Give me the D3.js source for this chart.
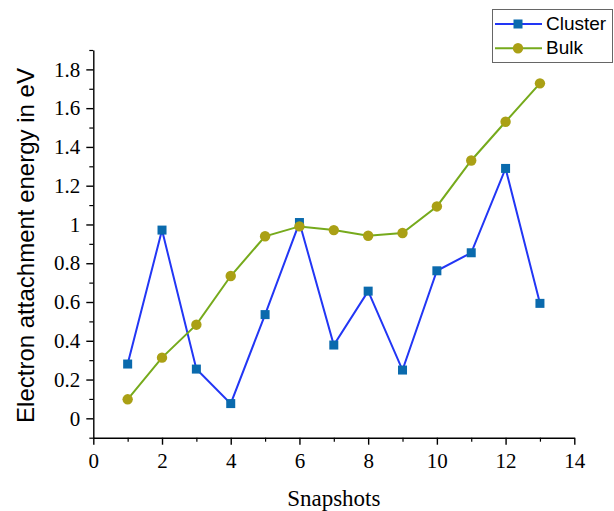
<!DOCTYPE html>
<html>
<head>
<meta charset="utf-8">
<script src="https://cdn.jsdelivr.net/npm/d3@7"></script>
<style>
  html, body { margin: 0; padding: 0; background: #fff; }
  svg { display: block; }
</style>
</head>
<body>
<svg id="chart" width="614" height="511"></svg>
<script>
// Snapshot index and electron attachment energies (eV)
const snapshots = [1, 2, 3, 4, 5, 6, 7, 8, 9, 10, 11, 12, 13];
const clusterValues = [0.28, 0.971, 0.254, 0.076, 0.535, 1.01, 0.378, 0.656, 0.249, 0.761, 0.854, 1.289, 0.593];
const bulkValues = [0.098, 0.313, 0.483, 0.734, 0.939, 0.99, 0.971, 0.942, 0.956, 1.093, 1.33, 1.53, 1.728];
const seriesNames = ["Cluster", "Bulk"];
const xTicks = [0, 2, 4, 6, 8, 10, 12, 14];
const yTicks = [0, 0.2, 0.4, 0.6, 0.8, 1, 1.2, 1.4, 1.6, 1.8];

const svg = d3.select("#chart");

const plot = { left: 93.3, right: 574.3, top: 50, bottom: 437.7 };
const x = d3.scaleLinear().domain([0, 14]).range([plot.left, plot.right]);
const y = d3.scaleLinear().domain([-0.1, 1.9]).range([plot.bottom, plot.top]);

const serif = "'Liberation Serif', 'Times New Roman', serif";
const sans = "'Liberation Sans', Arial, sans-serif";

// Minor ticks
const xMinor = d3.range(1, 14, 2);
const yMinor = d3.range(-0.1, 1.95, 0.2).map(v => +v.toFixed(2));

svg.append("g")
  .attr("transform", `translate(0,${plot.bottom})`)
  .call(d3.axisBottom(x).tickValues(xMinor).tickSize(4).tickFormat(""))
  .call(g => g.select(".domain").remove())
  .call(g => g.selectAll("line").attr("stroke", "#000").attr("stroke-width", 1.2));

svg.append("g")
  .attr("transform", `translate(${plot.left},0)`)
  .call(d3.axisLeft(y).tickValues(yMinor).tickSize(4).tickFormat(""))
  .call(g => g.select(".domain").remove())
  .call(g => g.selectAll("line").attr("stroke", "#000").attr("stroke-width", 1.2));

// Major axes
const xAxis = svg.append("g")
  .attr("transform", `translate(0,${plot.bottom})`)
  .call(d3.axisBottom(x).tickValues(xTicks).tickSize(7).tickSizeOuter(0).tickPadding(8).tickFormat(d3.format("d")));
xAxis.select(".domain").attr("stroke", "#000").attr("stroke-width", 1.4);
xAxis.selectAll("line").attr("stroke", "#000").attr("stroke-width", 1.4);
xAxis.selectAll("text").style("font-family", serif).style("font-size", "21px").attr("fill", "#000");

const yAxis = svg.append("g")
  .attr("transform", `translate(${plot.left},0)`)
  .call(d3.axisLeft(y).tickValues(yTicks).tickSize(7).tickSizeOuter(0).tickPadding(6).tickFormat(d => d3.format("")(d)));
yAxis.select(".domain").attr("stroke", "#000").attr("stroke-width", 1.4);
yAxis.selectAll("line").attr("stroke", "#000").attr("stroke-width", 1.4);
yAxis.selectAll("text").style("font-family", serif).style("font-size", "21px").attr("fill", "#000");

// Axis titles
svg.append("text")
  .attr("x", (plot.left + plot.right) / 2).attr("y", 506)
  .attr("text-anchor", "middle")
  .style("font-family", serif).style("font-size", "23px")
  .text("Snapshots");

svg.append("text")
  .attr("transform", `translate(34,${(428 + 63) / 2}) rotate(-90)`)
  .attr("text-anchor", "middle")
  .style("font-family", sans).style("font-size", "24px")
  .text("Electron attachment energy in eV");

const line = d3.line().x(d => x(d[0])).y(d => y(d[1]));

const clusterData = snapshots.map((s, i) => [s, clusterValues[i]]);
const bulkData = snapshots.map((s, i) => [s, bulkValues[i]]);

const clusterLine = "#2236f5", clusterMarker = "#0a6aad";
const bulkLine = "#76aa1c", bulkMarker = "#aaa015";

// Cluster series
svg.append("path").datum(clusterData)
  .attr("d", line).attr("fill", "none")
  .attr("stroke", clusterLine).attr("stroke-width", 2);
const sq = 9;
svg.append("g").selectAll("rect").data(clusterData).join("rect")
  .attr("x", d => x(d[0]) - sq / 2).attr("y", d => y(d[1]) - sq / 2)
  .attr("width", sq).attr("height", sq)
  .attr("fill", clusterMarker);

// Bulk series
svg.append("path").datum(bulkData)
  .attr("d", line).attr("fill", "none")
  .attr("stroke", bulkLine).attr("stroke-width", 2);
svg.append("g").selectAll("circle").data(bulkData).join("circle")
  .attr("cx", d => x(d[0])).attr("cy", d => y(d[1]))
  .attr("r", 5.2)
  .attr("fill", bulkMarker);

// Legend
const legend = svg.append("g");
legend.append("rect")
  .attr("x", 492.5).attr("y", 9.5).attr("width", 120).attr("height", 53)
  .attr("fill", "#fff").attr("stroke", "#666").attr("stroke-width", 1);
const legendItems = [
  { name: seriesNames[0], line: clusterLine, marker: clusterMarker, shape: "square" },
  { name: seriesNames[1], line: bulkLine, marker: bulkMarker, shape: "circle" }
];
legendItems.forEach((it, i) => {
  const cy = 24 + i * 24.3;
  legend.append("line")
    .attr("x1", 495).attr("x2", 542).attr("y1", cy).attr("y2", cy)
    .attr("stroke", it.line).attr("stroke-width", 2);
  if (it.shape === "square") {
    legend.append("rect").attr("x", 518 - sq / 2).attr("y", cy - sq / 2)
      .attr("width", sq).attr("height", sq).attr("fill", it.marker);
  } else {
    legend.append("circle").attr("cx", 518).attr("cy", cy).attr("r", 5.2).attr("fill", it.marker);
  }
  legend.append("text")
    .attr("x", 546).attr("y", cy + 6)
    .style("font-family", sans).style("font-size", "19px")
    .text(it.name);
});
</script>
</body>
</html>
